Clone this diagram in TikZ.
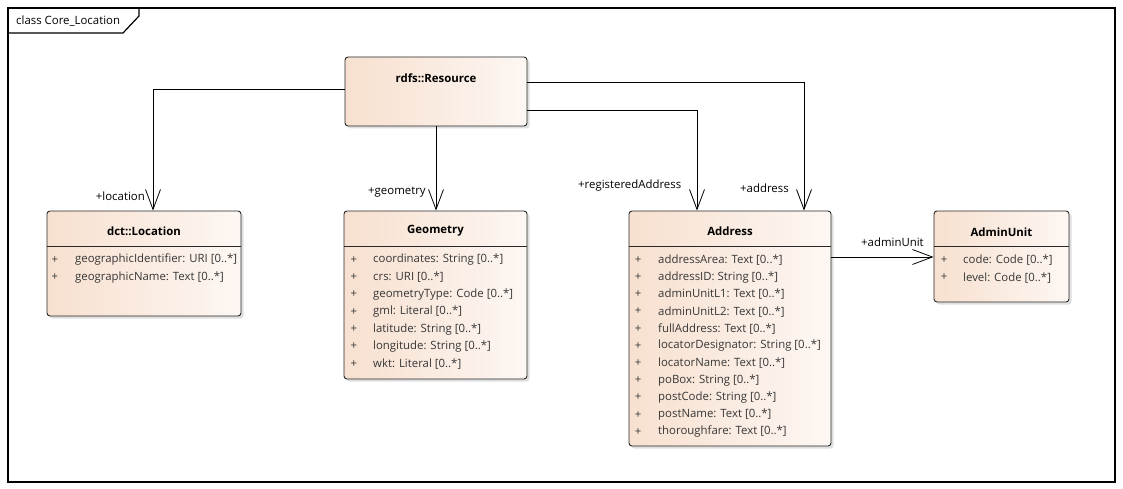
\documentclass[tikz,border=0pt]{standalone}
\usepackage{fontspec}
\setmainfont{Open Sans}
\usetikzlibrary{arrows.meta,shadows}
\definecolor{peachL}{RGB}{247,224,207}
\definecolor{peachR}{RGB}{253,247,243}
\definecolor{attrc}{RGB}{55,55,55}
\definecolor{edgec}{RGB}{40,40,40}
\tikzset{
  cls/.style={draw=edgec, line width=0.9pt, rounded corners=3pt, left color=peachL, right color=peachR,
    drop shadow={shadow xshift=2.5pt, shadow yshift=-2.5pt, opacity=.25, fill=gray}, inner sep=0pt},
  ttl/.style={font=\fontsize{11.4}{13}\selectfont\bfseries, text=black, inner sep=0pt},
  attr/.style={font=\fontsize{11.4}{13}\selectfont, text=attrc, anchor=west, inner sep=0pt},
  pls/.style={font=\fontsize{11.4}{13}\selectfont, text=attrc, inner sep=0pt},
  lbl/.style={font=\fontsize{11.4}{13}\selectfont, text=black, inner sep=0pt},
  assoc/.style={draw=black, line width=0.8pt, -{Straight Barb[length=20pt,width=15pt]}},
  sep/.style={draw=edgec, line width=0.9pt}
}
\begin{document}
\begin{tikzpicture}[x=1pt,y=-1pt]
\useasboundingbox (0,0) rectangle (1123,489);
\fill[white] (0,0) rectangle (1123,489);
% frame
\draw[line width=1.2pt] (8,8) rectangle (1115,482);
\draw[line width=1.2pt] (139,8) -- (139,16) -- (123,33) -- (8,33);
\node[lbl, anchor=west] (title) at (16,21) {class Core\_Location};

% classes
\node[cls, minimum width=182pt, minimum height=69pt] (res) at (436,91.5) {};
\node[ttl] (resT) at (436,78) {rdfs::Resource};

\node[cls, minimum width=194pt, minimum height=105pt] (loc) at (144,263.5) {};
\node[ttl] (locT) at (144,231) {dct::Location};
\draw[sep] (loc.west |- 0,246.5) -- (loc.east |- 0,246.5);
\foreach \t [count=\i from 0] in {{geographicIdentifier: URI [0..*]},{geographicName: Text [0..*]}}{
  \node[pls] (locP\i) at (55,260+17.6*\i) {+};
  \node[attr] (locA\i) at (75,260+17.6*\i) {\t};
}

\node[cls, minimum width=183pt, minimum height=168pt] (geo) at (435.5,295) {};
\node[ttl] (geoT) at (435.5,231) {Geometry};
\draw[sep] (geo.west |- 0,246.5) -- (geo.east |- 0,246.5);
\foreach \t [count=\i from 0] in {{coordinates: String [0..*]},{crs: URI [0..*]},{geometryType: Code [0..*]},{gml: Literal [0..*]},{latitude: String [0..*]},{longitude: String [0..*]},{wkt: Literal [0..*]}}{
  \node[pls] (geoP\i) at (354,260+17.3*\i) {+};
  \node[attr] (geoA\i) at (373,260+17.3*\i) {\t};
}

\node[cls, minimum width=202pt, minimum height=235pt] (adr) at (730,328.5) {};
\node[ttl] (adrT) at (730,231) {Address};
\draw[sep] (adr.west |- 0,246.5) -- (adr.east |- 0,246.5);
\foreach \t [count=\i from 0] in {{addressArea: Text [0..*]},{addressID: String [0..*]},{adminUnitL1: Text [0..*]},{adminUnitL2: Text [0..*]},{fullAddress: Text [0..*]},{locatorDesignator: String [0..*]},{locatorName: Text [0..*]},{poBox: String [0..*]},{postCode: String [0..*]},{postName: Text [0..*]},{thoroughfare: Text [0..*]}}{
  \node[pls] (adrP\i) at (638,260+17.2*\i) {+};
  \node[attr] (adrA\i) at (658,260+17.2*\i) {\t};
}

\node[cls, minimum width=135pt, minimum height=91pt] (adm) at (1001.5,256.5) {};
\node[ttl] (admT) at (1001.5,232) {AdminUnit};
\draw[sep] (adm.west |- 0,246.5) -- (adm.east |- 0,246.5);
\foreach \t [count=\i from 0] in {{code: Code [0..*]},{level: Code [0..*]}}{
  \node[pls] (admP\i) at (944,260+17.6*\i) {+};
  \node[attr] (admA\i) at (963,260+17.6*\i) {\t};
}

% connectors
\coordinate (resL) at ([yshift=2.5pt]res.west);
\coordinate (locIn) at ([xshift=9pt]loc.north);
\draw[assoc] (resL) -| (locIn);
\draw[assoc] (res.south) -- (res.south |- geo.north);
\coordinate (resR1) at ([yshift=9.5pt]res.east);
\coordinate (adrIn1) at ([xshift=74pt]adr.north);
\draw[assoc] (resR1) -| (adrIn1);
\coordinate (resR2) at ([yshift=-18.5pt]res.east);
\coordinate (adrIn2) at ([xshift=-33pt]adr.north);
\draw[assoc] (resR2) -| (adrIn2);
\coordinate (adrOut) at ([yshift=71.5pt]adr.east);
\draw[assoc] (adrOut) -- (adrOut -| adm.west);

% role labels
\node[lbl, anchor=east] (lLoc) at (145,196) {+location};
\node[lbl, anchor=west] (lGeo) at (368,192.5) {+geometry};
\node[lbl, anchor=west] (lReg) at (578,186) {+registeredAddress};
\node[lbl, anchor=west] (lAdr) at (740,188) {+address};
\node[lbl, anchor=west] (lAdm) at (861,242) {+adminUnit};
\end{tikzpicture}
\end{document}
